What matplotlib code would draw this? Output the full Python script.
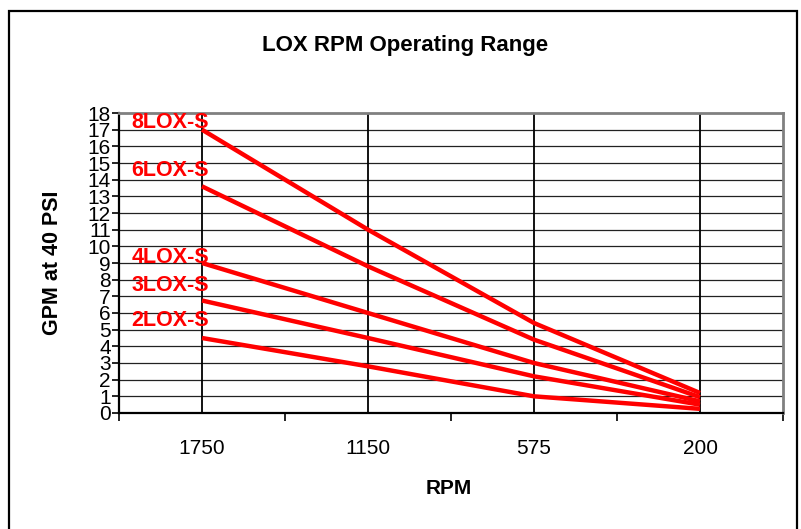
#!/usr/bin/env python3
import matplotlib
matplotlib.use("Agg")
import matplotlib.pyplot as plt
from matplotlib.patches import Rectangle

rpm_labels = ["1750", "1150", "575", "200"]
series_names = ["8LOX-S", "6LOX-S", "4LOX-S", "3LOX-S", "2LOX-S"]
gpm_8lox = [17.0, 11.0, 5.4, 1.2]
gpm_6lox = [13.6, 8.8, 4.4, 0.95]
gpm_4lox = [9.0, 6.0, 3.0, 0.7]
gpm_3lox = [6.75, 4.5, 2.2, 0.5]
gpm_2lox = [4.5, 2.8, 1.0, 0.25]

all_series = [gpm_8lox, gpm_6lox, gpm_4lox, gpm_3lox, gpm_2lox]
# label offsets above the 1750 point (pixels)
label_dy = [7, 16, 6, 15, 17]

plt.rcParams["font.family"] = ["Liberation Sans", "DejaVu Sans"]

fig = plt.figure(figsize=(8.01, 5.29), dpi=100)
ax = fig.add_axes([119 / 801, 1 - 413 / 529, (783 - 119) / 801, (413 - 113) / 529])

x = list(range(len(rpm_labels)))
for vals, name, dy in zip(all_series, series_names, label_dy):
    ax.plot(x, vals, color="#ff0000", lw=3.2, solid_capstyle="butt", zorder=3)
    ax.annotate(name, (x[0], vals[0]), xytext=(7, dy), textcoords="offset pixels",
                ha="right", va="center", color="#ff0000", fontsize=15.5,
                fontweight="bold", zorder=4)

ax.set_xlim(-0.5, len(rpm_labels) - 0.5)
ax.set_ylim(0, 18)
ax.set_yticks(range(0, 19))
ax.tick_params(axis="y", labelsize=15, length=5, width=1.2, pad=1)

# category boundaries get tick marks, labels sit at the centres
ax.set_xticks([i - 0.5 for i in range(len(rpm_labels) + 1)])
ax.set_xticklabels([])
ax.set_xticks(x, minor=True)
ax.set_xticklabels(rpm_labels, minor=True, fontsize=15)
ax.tick_params(axis="x", which="major", length=6, width=1.2)
ax.tick_params(axis="x", which="minor", length=0, pad=19)

for yv in range(1, 18):
    ax.axhline(yv, color="#222222", lw=0.9, zorder=1)
for xv in x:
    ax.axvline(xv, color="black", lw=1.3, zorder=1)

for side in ["left", "bottom"]:
    ax.spines[side].set_color("black")
    ax.spines[side].set_linewidth(1.6)
for side in ["top", "right"]:
    ax.spines[side].set_color("#808080")
    ax.spines[side].set_linewidth(2.0)

fig.text(405 / 801, 1 - 46 / 529, "LOX RPM Operating Range", ha="center", va="center",
         fontsize=16, fontweight="bold")
fig.text(449 / 801, 1 - 488 / 529, "RPM", ha="center", va="center",
         fontsize=15, fontweight="bold")
fig.text(52 / 801, 1 - 263 / 529, "GPM at 40 PSI", ha="center", va="center",
         rotation=90, fontsize=15.5, fontweight="bold")

fig.patches.append(Rectangle((9 / 801, -0.02), (797 - 9) / 801, 1 - 11 / 529 + 0.02,
                             transform=fig.transFigure, fill=False,
                             edgecolor="black", lw=1.6))

fig.savefig("out.png", dpi=100)
